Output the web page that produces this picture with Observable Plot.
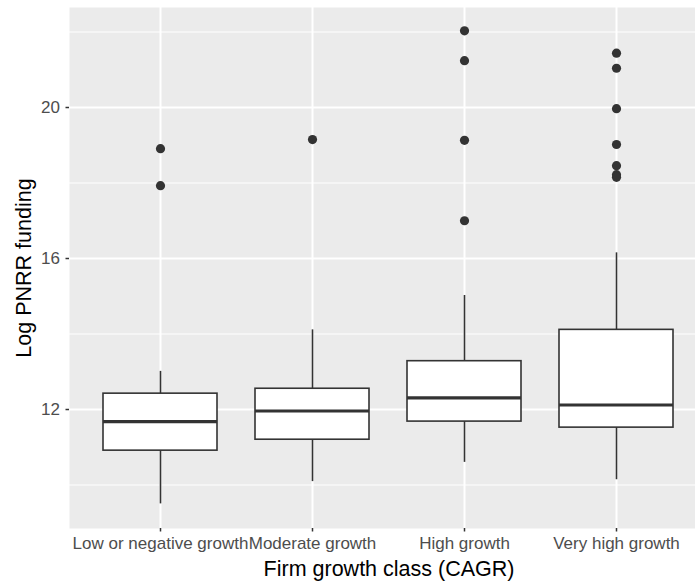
<!DOCTYPE html>
<html>
<head>
<meta charset="utf-8">
<script src="https://cdn.jsdelivr.net/npm/d3@7"></script>
<script src="https://cdn.jsdelivr.net/npm/@observablehq/plot@0.6"></script>
<style>
  html, body { margin: 0; padding: 0; background: white; overflow: hidden; }
  #chart { width: 695px; height: 583px; }
</style>
</head>
<body>
<div id="chart"></div>
<script>
// ---- data ----
const categories = ["Low or negative growth", "Moderate growth", "High growth", "Very high growth"];
const whiskerLow  = [9.50, 10.09, 10.60, 10.14];
const q1          = [10.91, 11.20, 11.68, 11.52];
const median      = [11.68, 11.96, 12.31, 12.12];
const q3          = [12.42, 12.55, 13.28, 14.11];
const whiskerHigh = [13.01, 14.11, 15.02, 16.15];
const outliersLow      = [18.91, 17.93];
const outliersModerate = [19.15];
const outliersHigh     = [22.03, 21.24, 19.13, 17.00];
const outliersVeryHigh = [21.44, 21.04, 19.97, 19.02, 18.46, 18.22, 18.15];
const yMajorTicks = [12, 16, 20];
const yMinorTicks = [10, 14, 18, 22];
const xTitle = "Firm growth class (CAGR)";
const yTitle = "Log PNRR funding";

// ---- build tables ----
const boxes = categories.map((c, i) => ({
  cat: c, lo: whiskerLow[i], q1: q1[i], med: median[i], q3: q3[i], hi: whiskerHigh[i]
}));
const outlierLists = [outliersLow, outliersModerate, outliersHigh, outliersVeryHigh];
const outliers = outlierLists.flatMap((arr, i) => arr.map(v => ({cat: categories[i], v})));

const font = "'Liberation Sans', Arial, Helvetica, sans-serif";

const chart = Plot.plot({
  width: 695,
  height: 583,
  marginLeft: 69,
  marginRight: 0,
  marginTop: 7,
  marginBottom: 55,
  style: {fontFamily: font, fontSize: "17px", background: "white", overflow: "hidden"},
  x: {type: "band", domain: categories, range: [69, 707.4], paddingInner: 0.25, paddingOuter: 0.225, align: 0.5},
  y: {domain: [8.848, 22.649]},
  marks: [
    Plot.frame({fill: "#EBEBEB", stroke: null}),
    Plot.ruleY(yMinorTicks, {stroke: "white", strokeWidth: 1}),
    Plot.ruleY(yMajorTicks, {stroke: "white", strokeWidth: 2}),
    Plot.ruleX(categories, {x: d => d, stroke: "white", strokeWidth: 2}),
    // whiskers
    Plot.ruleX(boxes, {x: "cat", y1: "lo", y2: "hi", stroke: "#333333", strokeWidth: 1.6}),
    // boxes
    Plot.barY(boxes, {x: "cat", y1: "q1", y2: "q3", fill: "white", stroke: "#333333", strokeWidth: 1.6}),
    // medians
    Plot.tickY(boxes, {x: "cat", y: "med", stroke: "#333333", strokeWidth: 3.2}),
    // outliers
    Plot.dot(outliers, {x: "cat", y: "v", r: 4.6, fill: "#333333", stroke: null}),
    // axes
    Plot.axisY(yMajorTicks, {
      anchor: "left", tickSize: 3.5, tickPadding: 6, fontSize: 17,
      stroke: "#333333", fill: "#4D4D4D", strokeWidth: 1.5, label: null,
      tickFormat: d => String(d)
    }),
    Plot.axisX({
      anchor: "bottom", tickSize: 3.5, tickPadding: 4.5, fontSize: 17,
      stroke: "#333333", fill: "#4D4D4D", strokeWidth: 1.5, label: null
    }),
    // axis titles
    Plot.text([xTitle], {
      frameAnchor: "bottom", text: d => d, dx: 6.5, dy: 41,
      fontSize: 21.5, fill: "black", lineAnchor: "middle", textAnchor: "middle"
    }),
    Plot.text([yTitle], {
      frameAnchor: "left", text: d => d, dx: -45.5, rotate: -90,
      fontSize: 21.5, fill: "black", lineAnchor: "middle", textAnchor: "middle"
    })
  ]
});
document.getElementById("chart").appendChild(chart);
</script>
</body>
</html>
